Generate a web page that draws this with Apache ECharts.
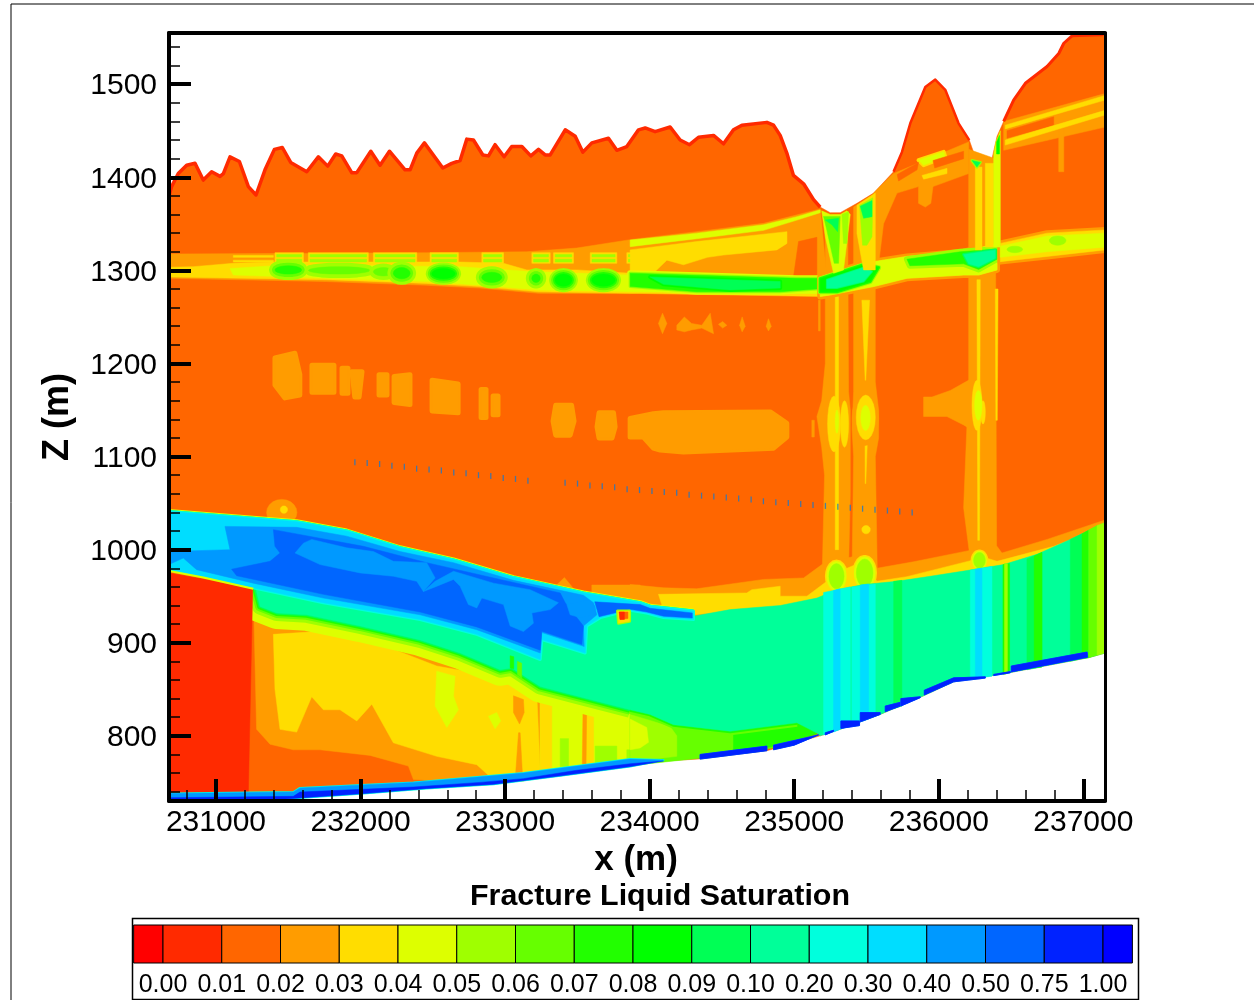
<!DOCTYPE html>
<html><head><meta charset="utf-8">
<style>html,body{margin:0;padding:0;background:#fff}#c{width:1254px;height:1000px}</style>
<script src="https://cdn.jsdelivr.net/npm/echarts@6/dist/echarts.min.js"></script>
</head><body><div id="c"></div>
<script>
// ---------- contour levels ----------
const levelColors = ['#ff0000','#ff2a00','#ff6600','#ff9c00','#ffdd00','#ddff00','#9fff00','#66ff00','#22ff00','#00ff00','#00ff55','#00ff99','#00ffdd','#00ddff','#0099ff','#0066ff','#0022ff','#0000ff'];
const levelLabels = ['0.00','0.01','0.02','0.03','0.04','0.05','0.06','0.07','0.08','0.09','0.10','0.20','0.30','0.40','0.50','0.75','1.00'];
const xMajor = [231000,232000,233000,234000,235000,236000,237000];
const zMajor = [800,900,1000,1100,1200,1300,1400,1500];
const xMinor = [230800,231200,231400,231600,231800,232200,232400,232600,232800,233200,233400,233600,233800,234200,234400,234600,234800,235200,235400,235600,235800,236200,236400,236600,236800,237200];
const zMinor = [740,760,780,820,840,860,880,920,940,960,980,1020,1040,1060,1080,1120,1140,1160,1180,1220,1240,1260,1280,1320,1340,1360,1380,1420,1440,1460,1480,1520,1540];

// ---------- domain outline ----------
const surface = [[230675,1380],[230693,1390],[230739,1404],[230797,1413],[230855,1415],[230912,1397],[230970,1406],[231028,1401],[231051,1404],[231097,1422],[231162,1417],[231224,1390],[231277,1381],[231339,1408],[231404,1430],[231459,1432],[231517,1416],[231628,1406],[231708,1422],[231773,1412],[231828,1425],[231870,1423],[231939,1405],[231974,1405],[232071,1428],[232135,1413],[232200,1428],[232308,1408],[232343,1408],[232389,1426],[232442,1437],[232569,1410],[232631,1415],[232689,1418],[232735,1441],[232781,1440],[232846,1424],[232885,1423],[232931,1435],[232993,1422],[233046,1433],[233116,1433],[233178,1423],[233231,1430],[233277,1424],[233312,1424],[233416,1451],[233485,1444],[233538,1427],[233600,1437],[233715,1442],[233773,1429],[233842,1433],[233923,1451],[233969,1453],[234038,1449],[234142,1454],[234211,1440],[234276,1435],[234338,1443],[234442,1445],[234511,1436],[234580,1451],[234638,1456],[234811,1459],[234857,1456],[234903,1445],[234949,1426],[234995,1402],[235065,1393],[235134,1376],[235180,1368],[235249,1362],[235318,1362],[235434,1372],[235549,1383],[235687,1406],[235745,1427],[235803,1458],[235907,1497],[235976,1505],[236045,1494],[236137,1458],[236211,1440],[236257,1420],[236310,1418],[236368,1420],[236403,1444],[236449,1460],[236518,1483],[236599,1501],[236749,1519],[236830,1533],[236865,1544],[236922,1552],[237129,1553],[237152,1556]];
const bottomEdge = [[237152,889],[237037,884],[236495,868],[236103,858],[235895,843],[235595,823],[235318,807],[235180,800],[234811,784],[234338,775],[234096,773],[233865,767],[233381,757],[232920,748],[232458,743.5],[232020,738],[231455,732],[230675,730]];

// ---------- saturated-zone patches at mid depth (polygons) ----------
const patchA = [[231408,1206],[231546,1211],[231580,1188],[231580,1166],[231477,1163],[231408,1177]];
const patchB = [[231664,1198],[231816,1198],[231816,1169],[231664,1169]];
const patchC = [[231872,1195],[231913,1195],[231913,1168],[231872,1168]];
const patchD = [[231941,1191],[232010,1191],[231990,1164],[231960,1164]];
const patchE = [[232128,1188],[232183,1188],[232183,1166],[232128,1166]];
const patchF = [[232232,1186],[232342,1188],[232342,1156],[232232,1158]];
const patchG = [[232495,1182],[232675,1178],[232675,1147],[232495,1149]];
const patchH = [[232834,1172],[232868,1172],[232868,1142],[232834,1142]];
const patchI = [[232917,1165],[232951,1165],[232951,1145],[232917,1145]];
const patchJ = [[233350,1155],[233460,1155],[233477,1138],[233450,1123],[233350,1123],[233332,1138]];
const patchK = [[233650,1147],[233750,1147],[233761,1132],[233740,1120],[233650,1120],[233636,1132]];
const patchL = [[233865,1141],[234026,1146],[234096,1147],[234834,1148],[234949,1135.6],[234949,1121],[234857,1109],[234234,1105],[234073,1107],[234026,1109],[233957,1121],[233865,1121]];
const diamondA = [[234089,1254],[234119,1243],[234089,1232],[234061,1243]];
const diamondB = [[234188,1241],[234240,1250],[234290,1243],[234361,1241],[234419,1254],[234442,1232],[234361,1238],[234290,1236],[234240,1234],[234188,1236]];
const diamondC = [[234476,1242],[234505,1245],[234534,1241],[234505,1238]];
const diamondD = [[234640,1250],[234661,1240],[234640,1234],[234622,1241]];
const diamondE = [[234822,1248],[234841,1240],[234822,1235],[234806,1240]];
const sliverA = [[235168,1268],[235180,1268],[235180,1235],[235168,1235]];
const sliverB = [[235122,1139],[235139,1139],[235139,1121],[235122,1121]];

// ---------- vertical fracture columns ----------
const col1Base = [[235215,1358],[235370,1360],[235376,1170],[235388,1150],[235388,1060],[235376,980],[235190,950],[235210,1080],[235190,1110],[235157,1143],[235190,1160],[235215,1200]];
const col2Base = [[235411,1368],[235561,1383],[235561,1180],[235584,1150],[235584,1120],[235561,1100],[235575,975],[235400,975],[235411,1100],[235400,1130],[235411,1170]];
const col3Base = [[236207,1430],[236391,1420],[236400,1000],[236410,980],[236230,975],[236172,1045],[236207,1180]];
const col3Side = [[235895,1164],[235953,1164],[236080,1171],[236218,1183],[236264,1125],[236172,1134],[236057,1143],[235895,1143]];
const col1Line = [[235284,1290],[235307,1290],[235307,1000],[235284,1000]];
const col2Line = [[235468,1268],[235521,1268],[235495,1182],[235491,1182]];
const col2Tail = [[235490,1112],[235505,1112],[235495,1071],[235491,1071]];
const col3Line = [[236264,1290],[236287,1290],[236282,1010],[236270,1010]];
const col3Right = [[236391,1280],[236410,1280],[236405,1139],[236395,1139]];
// bulges as [xLeft, xRight, zTop, zBottom]
const col1Lobes = [[235231,235320,1165,1105],[235320,235376,1160,1110]];
const col1Heart = [235284,235307,1150,1125];
const col2Halo = [235400,235584,1170,1112];
const col2Lobe = [235429,235561,1166,1118];
const col2Heart = [235461,235526,1155,1128];
const col3Lobes = [[236230,236299,1182,1128],[236290,236322,1160,1135]];
const col3Heart = [236248,236299,1171,1139];
const col2Foot = [235468,235526,1026,1017];

// ---------- shallow streaks on the right ----------
const ridgeBand = [[235549,1383],[235687,1404],[236207,1438],[236207,1404],[235960,1390],[235945,1372],[235907,1368],[235860,1372],[235860,1390],[235711,1383],[235618,1350],[235584,1307],[235549,1300]];
const ridgeStreakA = [[235860,1418.5],[236034,1427.4],[236045,1422],[235895,1413]];
const ridgeStreakB = [[235884,1402],[236057,1409.6],[236057,1404],[235895,1398]];
const ridgeDryA = [[235712,1403],[235860,1416],[235850,1408],[235722,1396]];
const ridgeDryB = [[235960,1418],[236172,1428],[236172,1420],[235972,1410]];
const eastBand = [[236449,1460],[237152,1490],[237152,1454],[236449,1429]];
const eastStreakA = [[236460,1456],[237152,1488],[237152,1483],[236460,1452]];
const eastStreakB = [[236460,1440],[237152,1472],[237152,1467],[236460,1434.6]];
const eastDry = [[236472,1450],[236795,1465],[236795,1456],[236472,1442]];
const eastDrip = [[236830,1456],[236865,1456],[236865,1406],[236830,1406]];
const valleyBitA = [[236230,1418],[236288,1416],[236264,1411]];
const valleyBitB = [[236400,1438],[236420,1445],[236420,1425],[236400,1425]];

// ---------- fracture band near 1300 m ----------
const bandOuter = [[230675,1318],[230693,1317.6],[232458,1319],[233150,1320],[233496,1324],[233865,1333],[234326,1341.6],[234788,1350.5],[235180,1366],[235226,1293],[233865,1275],[233231,1275.4],[232827,1281],[232458,1284],[231766,1288],[230675,1291.5]];
const bandYellow = [[230675,1303.3],[230843,1304],[231120,1307.6],[231397,1309],[232089,1309],[232689,1309],[232989,1307.6],[233150,1300.5],[233496,1300.5],[233865,1297],[235190,1293],[235190,1272],[233865,1275.4],[233231,1277],[232827,1282.6],[232458,1286],[231766,1290],[230675,1293]];
const bandLime = [[231097,1302],[231397,1305],[232089,1305],[232689,1304],[233150,1299],[233865,1295],[235190,1291],[235190,1275],[233935,1277],[233231,1279],[232827,1284],[232458,1288],[231766,1291.5],[231120,1295]];
const topStreak = [[233865,1332.6],[234326,1340],[234788,1349],[235019,1357.7],[235180,1365],[235180,1362],[235019,1354],[234788,1343],[234326,1334],[233865,1325.5]];
const underStreak = [[233865,1322],[234326,1331],[234950,1341.6],[234950,1329],[234880,1322],[234511,1316.5],[234400,1314],[234234,1306],[234119,1311],[234038,1298.7],[233865,1297]];
const dryWedge = [[235030,1331],[235157,1335.5],[235157,1293],[234995,1293]];
const upperBlocks = [[231408,231605],[231639,232054],[232089,232389],[232481,232677],[232839,232989],[233185,233312],[233335,233473],[233589,233773],[233842,233935]];
const blockRows = [[1317,1314.5],[1312,1309]];
const greenBlobs8 = [[231408,231593,1305,1296],[232227,232343,1303,1291],[232839,232977,1298,1287],[233185,233243,1296,1287]];
const greenBlobs7 = [[231639,232066,1304,1296],[232089,232227,1303,1294]];
const greenBlobs9 = [[232493,232654,1302,1291],[233346,233462,1296,1283],[233600,233761,1296,1283]];
const longGreen = [[233865,1297],[235019,1291.5],[235157,1291.5],[235157,1280],[234903,1277],[234326,1277],[233865,1282.6]];
const longCore = [[234003,1293],[234903,1288],[234903,1281],[234557,1279],[234096,1285]];
const midBand = [[235180,1293],[235480,1307.6],[235780,1315],[236172,1320],[236403,1329],[236403,1300.5],[236276,1295],[236172,1295],[235780,1291.5],[235549,1282.6],[235249,1273.6],[235180,1272]];
const midGreen = [[235780,1312],[236149,1320],[236403,1323],[236403,1312],[236276,1301],[236172,1307],[235800,1305]];
const midCore = [[236172,1317],[236391,1322],[236391,1313],[236276,1304],[236207,1307]];
const gulchGreen = [[235180,1291],[235480,1306],[235584,1303],[235526,1288],[235295,1277],[235180,1277]];
const gulchCore = [[235226,1290],[235480,1303],[235538,1298.7],[235480,1288],[235295,1281],[235226,1281]];
const eastSeam = [[236426,1329],[236749,1340],[237152,1343.4],[237152,1322],[236749,1315],[236426,1309.4]];
const eastSeamInner = [[236426,1326],[236749,1337],[237152,1340],[237152,1325],[236749,1320],[236426,1314]];
const eastBlobA = [236472,236580,1326,1319];
const eastBlobB = [236765,236880,1337,1327];

// ---------- wedges below the valley floors ----------
const wedge1Base = [[235190,1364],[235249,1360],[235318,1360],[235365,1364],[235388,1360],[235341,1300.5],[235272,1297],[235215,1336]];
const wedge1Mid = [[235203,1358],[235318,1358],[235307,1307.6],[235277,1307.6],[235226,1343]];
const wedge1Core = [[235215,1354],[235307,1356],[235300,1341.6],[235261,1349]];
const wedge1b = [[235330,1360],[235376,1363],[235365,1329],[235341,1329]];
const wedge2Base = [[235434,1370],[235561,1383],[235561,1300.5],[235480,1300.5],[235434,1340]];
const wedge2Mid = [[235452,1370],[235544,1378],[235538,1336],[235503,1327],[235473,1327]];
const wedge2Core = [[235457,1369],[235538,1375],[235538,1357.7],[235480,1356]];
const col3Upper1 = [[236253,1411],[236299,1411],[236299,1322],[236253,1322]];
const col3Upper2 = [[236322,1415],[236380,1415],[236380,1325],[236322,1325]];
const col3Upper3 = [[236380,1425],[236395,1438],[236426,1450],[236426,1325],[236380,1325]];

// ---------- layers below the perched lens ----------
const lowerOrange = [[231258,957],[233127,878],[233243,853],[233935,830],[233935,770],[233243,758],[233127,751.5],[232827,750],[232366,753],[232331,767.5],[232066,779],[231720,785],[231535,785],[231374,791],[231281,807]];
const lowerYellow = [[231397,909],[231697,912],[232227,893],[232527,875],[232920,864],[233219,846],[233243,762],[233127,751.5],[232896,756],[232804,769],[232527,778],[232227,792.5],[232078,834],[231974,816],[231858,828],[231743,828],[231662,842],[231558,804],[231443,807],[231408,850]];
const limeColumn = [[232527,869.5],[232654,864],[232643,842.6],[232677,828],[232597,809],[232516,832]];
const limeSpot = [[232885,821],[232942,825],[232970,816],[232931,807.6]];
const orangeBlob = [[233058,843],[233127,839],[233132,825],[233100,812.6],[233058,825]];
const orangeSliver = [[233093,803.3],[233104,803.3],[233122,753],[233070,753]];
const lowerLime = [[233243,843],[233935,821],[233935,775],[233496,767],[233243,762]];
const yellowStripA = [[233243,843],[233323,840],[233323,762],[233243,762]];
const yellowStripB = [[233540,838],[233612,833],[233612,768],[233530,766]];
const orangeStrip = [[233540,836],[233565,834],[233560,768],[233535,768]];
const seepA = [[233381,797],[233439,797],[233439,767],[233381,767]];
const seepB = [[233623,789],[233773,789],[233773,771],[233623,771]];
const seepC = [[233842,785],[233935,785],[233935,775],[233842,773]];
const toeGreen = [[233865,830],[234165,814],[234557,807],[235019,816],[235157,805],[234900,788],[234349,776],[233865,768]];
const toeLightA = [[233865,823],[234142,810],[234188,800],[234188,778],[233865,772]];
const toeLightB = [[233865,818],[233980,809],[233992,793],[233934,787],[233865,785]];
const toeDark = [[234580,802],[234788,806],[235019,814],[235134,807],[235157,802],[234834,788],[234580,784]];
const upperSoil = [[233865,962.5],[234096,959],[234326,958],[234788,968],[235065,969.6],[235192,984],[235365,991],[235480,995],[235572,980],[235826,987],[236241,1000],[236403,1003.6],[236437,996.4],[236749,1011],[237152,1032],[237152,1000],[236000,950],[234303,925],[233865,935]];
const soilYellow = [[234061,952],[234672,953.5],[234707,957],[234903,960.7],[234903,950],[235088,950],[235226,966],[235295,975],[235365,980],[235480,987.5],[235572,966],[235780,971],[236241,989],[236287,993],[236403,987.5],[236449,989.3],[236795,1003.6],[237152,1025],[237152,1010],[236000,955],[234303,930],[234096,935]];
const soilBlobA = [235240,235345,985,958];
const soilBlobB = [235430,235545,990,960];
const soilBlobC = [236241,236322,997,980];
const lensHillA = [231350,231560,1054,1026];
const lensHillCore = [231445,231495,1047,1039];
const lensHillB = [[233330,958],[233410,970],[233480,957],[233330,945]];
const lensHillC = [[233600,962],[233935,962],[233935,945],[233600,950]];
const greenLowerEdge = [[231270,959],[231305,939],[231420,932],[231628,930],[231997,918],[232412,903],[232689,889],[232966,871],[233046,873],[233243,853],[233542,841],[233865,828]];
const toeEdge = [[233865,828],[234003,823],[234165,812],[234557,805],[235019,814]];
const greenZone = [[231270,962],[232412,935],[233243,900],[233554,925],[233650,938],[234303,932],[234303,928.5],[234557,935.6],[234903,940],[235157,948],[235295,957],[235480,962.5],[235710,966],[235941,971.4],[236172,977],[236449,984],[236680,995],[236910,1011],[237152,1029],[237152,889],[237037,884],[236495,868],[236103,858],[235895,843],[235595,823],[235318,807],[235180,800],[235157,803],[235019,814],[234557,805],[234165,812],[234003,823],[233865,828],[233542,841],[233243,853],[233046,873],[232966,871],[232689,889],[232412,903],[231997,918],[231628,930],[231420,932],[231305,939]];
const stripesCyan = [[[235203,954],[235388,960],[235388,811],[235203,801]],[[235399,960],[235561,963],[235561,821],[235399,812]],[[236218,978],[236368,982],[236368,864],[236218,861]]];
const stripesBlue = [[[235272,956],[235318,958],[235318,807],[235272,804]],[[235457,962],[235515,963],[235515,818],[235457,815]],[[236253,979],[236299,980],[236299,862.5],[236253,861.6]]];
const stripesSea = [[[235688,966],[235745,967],[235745,832],[235688,829]],[[236610,990],[236714,997],[236714,874],[236610,871]],[[236910,1011],[236991,1017],[236991,883],[236910,880]]];
const stripeGreenA = [[236444,984],[236490,985],[236490,868],[236444,866]];
const stripeGreenB = [[236660,993],[236714,997],[236714,874],[236660,873]];
const stripeGreenC = [[236991,1017],[237037,1021],[237037,884],[236991,883]];
const stripeFresh = [[237037,1021],[237095,1026],[237095,886.5],[237037,884]];
const stripeLime = [[237095,1026],[237152,1029],[237152,889],[237095,886.5]];
const stripeLimeB = [[236455,985],[236475,985],[236475,867],[236455,866]];
const patchGreenA = [[233035,886],[233060,885],[233060,872],[233035,873]];
const patchGreenB = [[233085,880],[233115,878],[233115,862],[233085,866]];

// ---------- perched lens ----------
const lensOuter = [[230675,1041],[231558,1030],[231904,1020],[232274,1002],[232643,989],[233058,970],[233542,953.5],[233935,943],[234003,939.2],[234303,934],[234303,925],[234096,927],[233980,932],[233865,935],[233658,927],[233565,918],[233554,889],[233254,903.4],[233243,882],[232804,909],[232412,925],[231743,943],[231258,959],[230912,971.4],[230675,979]];
const lensTopEdge = [[230675,1041],[231558,1030],[231904,1020],[232274,1002],[232643,989],[233058,970],[233542,953.5],[233935,943],[234003,939.2],[234303,934]];
const lensWestEdge = [[230675,977],[230912,970],[231258,958]];
const lensCore = [[230675,998],[231097,1000],[231062,1025],[231558,1024],[231904,1014.5],[232274,998],[232643,986],[233058,967],[233542,951],[233612,943],[233635,930],[233542,918],[233547,896],[233254,911],[233243,889],[232804,914],[232412,930],[231743,948],[231258,964],[230866,978.5],[230774,991],[230675,984]];
const lensDark = [[231397,1021.5],[232020,1003.6],[232458,986],[232920,969.6],[233381,953.5],[233416,943],[233542,918],[233531,898],[233254,912.4],[233243,892],[232804,917],[232412,933],[231743,952],[231143,972],[231108,979],[231374,987.5],[231443,996.4],[231408,1003.6]];
const lensTail = [[233620,944],[233935,941],[234003,937],[234295,932],[234295,926.5],[234096,928.5],[233980,933],[233865,936],[233650,928]];
const lensBlobA = [[231547,996.4],[231605,1007],[231662,1011],[231904,1002],[232089,998],[232227,987.5],[232458,986],[232516,969.6],[232435,955],[232389,966],[232227,971.4],[231997,975],[231720,984]];
const lensBlobB = [[232643,976.8],[232920,964],[233173,957],[233369,943],[233312,935.6],[233185,932],[233196,921],[233127,912],[233035,918],[232989,941],[232839,948],[232804,937.4],[232746,941],[232689,960.7],[232643,968],[232516,960],[232435,955],[232516,966]];
const lensBlobC = [[233427,941],[233577,946],[233623,939],[233623,930],[233520,927],[233450,930]];
const spotRim = [[233778,934],[233861,934],[233861,923],[233785,921]];
const spotInner = [[233790,933],[233850,933],[233850,926],[233795,925]];
const spotRed = [[233790,933],[233825,933],[233825,925],[233795,925]];

// ---------- dry west block ----------
const westBlock = [[230675,975],[230912,968.5],[231254,958],[231224,739],[230675,738]];

// ---------- basal saturated rim ----------
const basalBand = [[230675,738],[231535,739.6],[231581,744],[232366,750],[232827,756],[233127,760],[233496,767.5],[233865,775],[234096,774],[233865,767],[233381,757],[232920,748],[232458,743.5],[232020,738],[231455,732],[230675,730]];
const basalDark = [[230675,733.5],[231535,735],[231581,739.6],[232366,745],[232827,750],[233127,754],[233496,763],[233865,770],[234096,773],[233865,767],[233381,757],[232920,748],[232458,743.5],[232020,738],[231455,732],[230675,730]];
const rimSegments = [
  [[234349,780],[234811,789],[234811,784],[234349,775]],
  [[234857,790],[235000,795],[235168,801],[235000,790],[234857,785]],
  [[235215,803.3],[235272,806],[235272,804.7],[235215,801]],
  [[235323,816],[235452,816],[235452,811],[235323,808]],
  [[235457,825],[235595,825],[235595,823],[235457,815]],
  [[235630,832],[235734,836],[235734,832],[235630,826]],
  [[235738,840],[235872,842],[235872,841],[235738,832]],
  [[235900,849],[236103,862.3],[236322,863.4],[236322,862],[236103,858],[235900,844]],
  [[236380,866],[236495,869],[236495,867.7],[236380,864.7]],
  [[236502,875],[237026,890],[237030,884.5],[236502,868.7]]
];

// ---------- monitoring points ----------
const dotX = [231961,232046,232132,232217,232303,232388,232474,232559,232645,232730,232816,232901,232987,233072,233158,233415,233501,233587,233672,233758,233844,233930,234016,234101,234187,234273,234359,234444,234530,234616,234702,234787,234873,234959,235045,235130,235216,235302,235388,235473,235559,235645,235730,235816];
const dotZ = [1094,1093,1092,1090,1089,1087,1086,1085,1083,1082,1080,1079,1077,1076,1074,1072,1071,1069,1068,1067,1065,1064,1063,1062,1061,1059,1058,1057,1056,1055,1054,1052,1051,1050,1049,1048,1047,1046,1045,1044,1043,1042,1041,1040];

// ---------- shape helpers and paint order ----------
const C = levelColors;
// closes a bounding box [xLeft,xRight,zTop,zBottom] into a rounded outline
function oval(b){
  const cx=(b[0]+b[1])/2, cz=(b[2]+b[3])/2, rx=(b[1]-b[0])/2, rz=(b[2]-b[3])/2, pts=[];
  for(let i=0;i<20;i++){const a=i/20*Math.PI*2; pts.push([cx+rx*Math.cos(a),cz+rz*Math.sin(a)]);}
  return pts;
}
const upperRows = [];
upperBlocks.forEach(b => {
  upperRows.push({p:[[b[0],1319],[b[1],1319],[b[1],1307.6],[b[0],1307.6]],c:C[4]});
  blockRows.forEach(r => upperRows.push({p:[[b[0]+12,r[0]],[b[1]-12,r[0]],[b[1]-12,r[1]],[b[0]+12,r[1]]],c:C[6]}));
});
const surfaceWest = surface.filter(q=>q[0]<=235180);
const surfaceRidge = surface.filter(q=>q[0]>=235687 && q[0]<=236211);
const surfaceEast = surface.filter(q=>q[0]>=236449);
const regions = [
  {p:[...surface,...bottomEdge],c:C[2]},
  ...[patchA,patchB,patchC,patchD,patchE,patchF,patchG,patchH,patchI,patchJ,patchK,patchL].map(p=>({p,c:C[3],h:[[C[3],5]]})),
  ...[diamondA,diamondB,diamondC,diamondD,diamondE,sliverA,sliverB,col1Base,col2Base,col3Base,col3Side,ridgeBand,eastBand,eastDrip].map(p=>({p,c:C[3]})),
  ...[col1Line,col2Line,col2Tail,col3Line,col3Right].map(p=>({p,c:C[4]})),
  {p:oval(col2Halo),c:C[3]},
  ...col1Lobes.map(b=>({p:oval(b),c:C[4]})),...col3Lobes.map(b=>({p:oval(b),c:C[4]})),{p:oval(col2Lobe),c:C[4]},{p:oval(col2Foot),c:C[4]},
  {p:oval(col1Heart),c:C[5]},{p:oval(col2Heart),c:C[5]},{p:oval(col3Heart),c:C[5]},
  {p:ridgeStreakA,c:C[5],h:[[C[4],4]]},{p:ridgeStreakB,c:C[4]},{p:ridgeDryA,c:C[2]},{p:ridgeDryB,c:C[2]},
  {p:eastDry,c:C[2]},{p:eastStreakA,c:C[4]},{p:eastStreakB,c:C[4]},
  {p:bandOuter,c:C[3]},{p:bandYellow,c:C[4]},{p:bandLime,c:C[5]},
  {p:[[231120,1316],[231397,1316],[231397,1314],[231120,1314]],c:C[4]},{p:[[231120,1311],[231397,1311],[231397,1309],[231120,1309]],c:C[4]},
  ...upperRows,
  {p:topStreak,c:C[5]},{p:underStreak,c:C[4]},{p:dryWedge,c:C[2]},
  ...greenBlobs7.map(b=>({p:oval(b),c:C[7],h:[[C[6],8]]})),
  ...greenBlobs8.map(b=>({p:oval(b),c:C[8],h:[[C[6],12],[C[7],6]]})),
  ...greenBlobs9.map(b=>({p:oval(b),c:C[9],h:[[C[6],12],[C[7],8],[C[8],4]]})),
  {p:longGreen,c:C[8],h:[[C[5],6],[C[6],3]]},{p:longCore,c:C[10],h:[[C[9],4]]},
  {p:midBand,c:C[4],h:[[C[3],6]]},{p:midBand,c:C[5]},
  {p:midGreen,c:C[8],h:[[C[6],6]]},{p:midCore,c:C[11],h:[[C[10],3]]},
  {p:gulchGreen,c:C[9],h:[[C[6],5],[C[8],3]]},{p:gulchCore,c:C[11],h:[[C[10],2]]},
  {p:eastSeam,c:C[4],h:[[C[3],6]]},{p:eastSeamInner,c:C[5]},{p:oval(eastBlobA),c:C[6]},{p:oval(eastBlobB),c:C[6]},
  {p:wedge1Base,c:C[5]},{p:wedge1Mid,c:C[7]},{p:wedge1Core,c:C[10]},{p:wedge1b,c:C[6]},
  {p:wedge2Base,c:C[4]},{p:wedge2Mid,c:C[6]},{p:wedge2Core,c:C[10]},
  {p:col3Upper1,c:C[4]},{p:col3Upper2,c:C[4]},{p:col3Upper3,c:C[5]},
  {p:valleyBitA,c:C[10],h:[[C[6],3]]},{p:valleyBitB,c:C[9]},
  {p:upperSoil,c:C[3]},{p:soilYellow,c:C[4]},
  {p:oval(soilBlobA),c:C[6],h:[[C[4],8],[C[5],5]]},{p:oval(soilBlobB),c:C[6],h:[[C[4],8],[C[5],5]]},{p:oval(soilBlobC),c:C[6],h:[[C[4],6],[C[5],3]]},
  {p:oval(lensHillA),c:C[3]},{p:oval(lensHillCore),c:C[4]},{p:lensHillB,c:C[3]},{p:lensHillC,c:C[3]},
  {p:lowerOrange,c:C[3]},{p:lowerYellow,c:C[4]},{p:limeColumn,c:C[5]},{p:limeSpot,c:C[5]},
  {p:orangeBlob,c:C[3]},{p:orangeSliver,c:C[3]},
  {p:lowerLime,c:C[5]},{p:yellowStripA,c:C[4]},{p:yellowStripB,c:C[4]},{p:orangeStrip,c:C[3]},
  {p:seepA,c:C[6]},{p:seepB,c:C[6]},{p:seepC,c:C[6]},
  {p:toeGreen,c:C[7]},{p:toeLightA,c:C[6]},{p:toeLightB,c:C[5]},{p:toeDark,c:C[8]},
  {line:greenLowerEdge,w:[[C[5],32],[C[6],16],[C[7],10],[C[8],6],[C[10],3]]},
  {line:toeEdge,w:[[C[7],8],[C[8],4]]},
  {p:greenZone,c:C[11]},
  ...stripesCyan.map(p=>({p,c:C[12]})),...stripesBlue.map(p=>({p,c:C[13]})),...stripesSea.map(p=>({p,c:C[10]})),
  {p:stripeGreenA,c:C[8]},{p:stripeLimeB,c:C[6]},{p:stripeGreenB,c:C[8]},{p:stripeGreenC,c:C[8]},{p:stripeFresh,c:C[7]},{p:stripeLime,c:C[6]},
  {p:patchGreenA,c:C[8]},{p:patchGreenB,c:C[7]},
  {line:lensTopEdge,w:[[C[5],5],[C[10],3]]},
  {p:lensOuter,c:C[13],h:[[C[12],3]]},
  {p:lensCore,c:C[14]},{p:lensDark,c:C[15]},{p:lensTail,c:C[15]},
  {p:lensBlobA,c:C[14]},{p:lensBlobB,c:C[14]},{p:lensBlobC,c:C[14]},
  {p:spotRim,c:C[4],h:[[C[6],3]]},{p:spotInner,c:C[2]},{p:spotRed,c:C[1]},
  {p:westBlock,c:C[1]},{line:lensWestEdge,w:[[C[5],2]]},
  {p:basalBand,c:C[14],h:[[C[12],2]]},{p:basalDark,c:C[16]},
  ...rimSegments.map(p=>({p,c:C[16],h:[[C[15],1]]})),
  {line:surfaceWest,w:[[C[1],3.5]]},{line:surfaceRidge,w:[[C[1],2.5]]},{line:surfaceEast,w:[[C[1],3]]}
];

function renderContour(params, api){
  const r = regions[params.dataIndex];
  const toPx = pts => pts.map(q => api.coord(q));
  const children = [];
  if (r.line) {
    const pts = toPx(r.line);
    r.w.forEach(w => children.push({type:'polyline',shape:{points:pts},style:{fill:null,stroke:w[0],lineWidth:w[1],lineJoin:'round'}}));
  } else {
    const pts = toPx(r.p);
    (r.h||[]).forEach(h => children.push({type:'polygon',shape:{points:pts},style:{fill:h[0],stroke:h[0],lineWidth:h[1],lineJoin:'round'}}));
    children.push({type:'polygon',shape:{points:pts},style:{fill:r.c,stroke:r.c,lineWidth:0.5}});
  }
  return {type:'group',children};
}
function renderCell(params, api){
  const i = params.dataIndex;
  const a = api.coord([i===0 ? -0.5 : i-1, 1]);
  const b = api.coord([i===levelColors.length-1 ? levelLabels.length-0.5 : i, 0]);
  return {type:'rect',shape:{x:a[0],y:a[1],width:b[0]-a[0],height:b[1]-a[1]},style:{fill:levelColors[i],stroke:'#000',lineWidth:1}};
}

const xMin=230675,xMax=237150,zMin=730,zMax=1555;
const font='"Liberation Sans",Arial,sans-serif';
const chart = echarts.init(document.getElementById('c'),null,{renderer:'canvas'});
const noAxisParts={axisLabel:{show:false},splitLine:{show:false}};
chart.setOption({
  animation:false,
  backgroundColor:'#fff',
  title:{text:'Fracture Liquid Saturation',left:655,top:877,textAlign:'center',textStyle:{fontFamily:font,fontSize:30.4,fontWeight:'bold',color:'#000'}},
  grid:[{left:169,top:33,width:936,height:768,containLabel:false},{left:163,top:925,width:940,height:38,containLabel:false}],
  xAxis:[
    {type:'value',gridIndex:0,min:xMin,max:xMax,position:'bottom',z:10,name:'x (m)',nameLocation:'middle',nameGap:32,
      nameTextStyle:{fontFamily:font,fontSize:35,fontWeight:'bold',color:'#000',padding:[0,0,0,-2]},
      axisLine:{onZero:false,lineStyle:{color:'#000',width:4}},
      axisTick:{inside:true,length:22,customValues:xMajor,lineStyle:{color:'#000',width:4}},
      axisLabel:{customValues:xMajor,fontFamily:font,fontSize:30,color:'#000',margin:7,showMinLabel:true,showMaxLabel:true,formatter:v=>String(v)},splitLine:{show:false}},
    {type:'value',gridIndex:0,min:xMin,max:xMax,position:'bottom',z:10,axisLine:{show:false},
      axisTick:{inside:true,length:11,customValues:xMinor,lineStyle:{color:'#000',width:1.5}},...noAxisParts},
    {type:'value',gridIndex:0,min:xMin,max:xMax,position:'top',z:10,axisLine:{onZero:false,lineStyle:{color:'#000',width:4}},axisTick:{show:false},...noAxisParts},
    {type:'value',gridIndex:1,min:0,max:levelLabels.length-1,position:'bottom',axisLine:{show:false},axisTick:{show:false},
      axisLabel:{customValues:levelLabels.map((_,i)=>i),formatter:v=>levelLabels[v],fontFamily:font,fontSize:25,color:'#000',margin:10,showMinLabel:true,showMaxLabel:true},splitLine:{show:false}}
  ],
  yAxis:[
    {type:'value',gridIndex:0,min:zMin,max:zMax,position:'left',z:10,name:'Z (m)',nameLocation:'middle',nameGap:93,nameRotate:90,
      nameTextStyle:{fontFamily:font,fontSize:36,fontWeight:'bold',color:'#000'},
      axisLine:{onZero:false,lineStyle:{color:'#000',width:4}},
      axisTick:{inside:true,length:22,customValues:zMajor,lineStyle:{color:'#000',width:4}},
      axisLabel:{customValues:zMajor,color:'#000',margin:12,formatter:v=>'{a|'+v+'}',rich:{a:{fontFamily:font,fontSize:30,color:'#000',padding:[4,0,0,0]}}},splitLine:{show:false}},
    {type:'value',gridIndex:0,min:zMin,max:zMax,position:'left',z:10,axisLine:{show:false},
      axisTick:{inside:true,length:11,customValues:zMinor,lineStyle:{color:'#000',width:1.5}},...noAxisParts},
    {type:'value',gridIndex:0,min:zMin,max:zMax,position:'right',z:10,axisLine:{onZero:false,lineStyle:{color:'#000',width:3}},axisTick:{show:false},...noAxisParts},
    {type:'value',gridIndex:1,min:0,max:1,show:false}
  ],
  graphic:[
    {type:'rect',z:-1,shape:{x:11,y:4,width:1260,height:1010},style:{fill:null,stroke:'#000',lineWidth:1}},
    {type:'rect',z:-1,shape:{x:132.5,y:918.5,width:1006,height:81},style:{fill:null,stroke:'#000',lineWidth:1.5}}
  ],
  series:[
    {type:'custom',name:'contours',xAxisIndex:0,yAxisIndex:0,clip:true,silent:true,renderItem:renderContour,data:regions.map((_,i)=>i),encode:{x:[],y:[]}},
    {type:'scatter',name:'points',xAxisIndex:0,yAxisIndex:0,silent:true,symbol:'rect',symbolSize:[1.3,6],itemStyle:{color:'#1a78c8'},z:5,data:dotX.map((x,i)=>[x,dotZ[i]])},
    {type:'custom',name:'legend',xAxisIndex:3,yAxisIndex:3,clip:false,silent:true,renderItem:renderCell,data:levelColors.map((_,i)=>i),encode:{x:[],y:[]}}
  ]
});
</script></body></html>
